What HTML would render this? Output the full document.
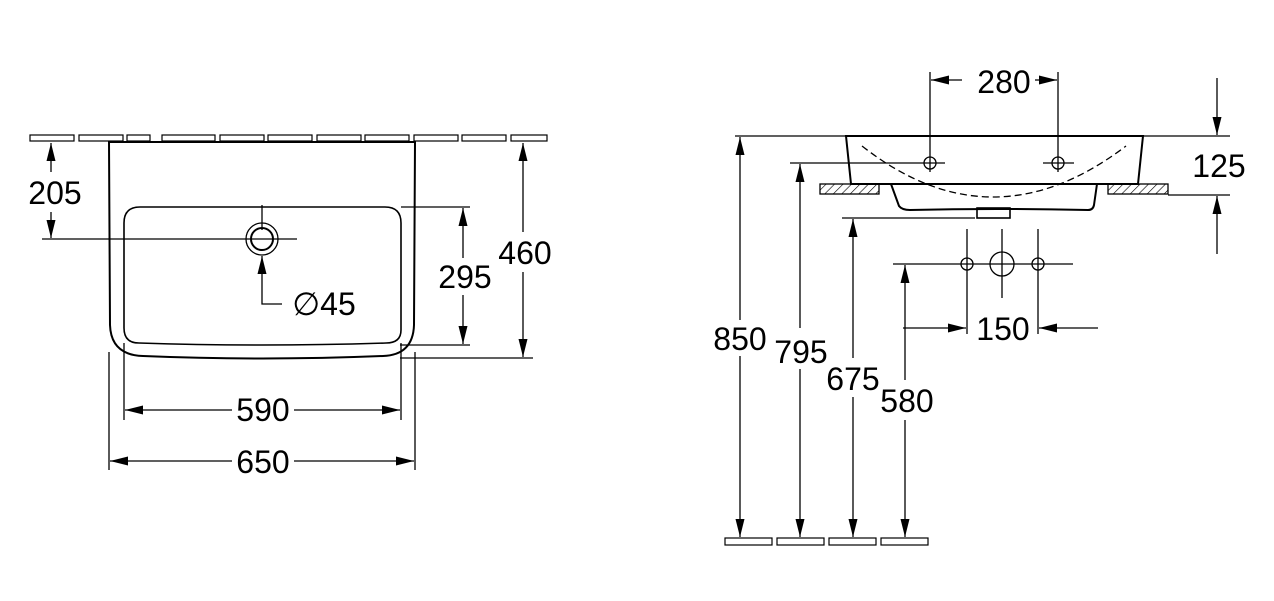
<!DOCTYPE html>
<html><head><meta charset="utf-8"><style>
html,body{margin:0;padding:0;background:#fff;}
svg{display:block}
text{font-family:"Liberation Sans",sans-serif;font-size:32px;fill:#000;text-anchor:middle}
</style></head><body>
<svg width="1274" height="601" viewBox="0 0 1274 601" xmlns="http://www.w3.org/2000/svg">
<defs>
<marker id="a" markerUnits="userSpaceOnUse" markerWidth="20" markerHeight="10" refX="18" refY="4.5" orient="auto">
<path d="M0,0 L18,4.5 L0,9 z" fill="#000"/></marker>
<pattern id="h" patternUnits="userSpaceOnUse" width="6" height="6" patternTransform="rotate(45)">
<line x1="0" y1="0" x2="0" y2="6" stroke="#000" stroke-width="1.2"/></pattern>
</defs>
<g fill="none" stroke="#000" stroke-width="1.3">
<g stroke-width="1.2">
<rect x="30" y="135" width="44" height="6"/><rect x="79" y="135" width="44" height="6"/>
<rect x="127" y="135" width="23" height="6"/><rect x="162" y="135" width="53" height="6"/>
<rect x="220" y="135" width="44" height="6"/><rect x="268" y="135" width="44" height="6"/>
<rect x="317" y="135" width="44" height="6"/><rect x="365" y="135" width="44" height="6"/>
<rect x="414" y="135" width="44" height="6"/><rect x="462" y="135" width="44" height="6"/>
<rect x="511" y="135" width="36" height="6"/>
</g>
<path d="M109,142 L415,142 L414,325 Q413,355 383,356 Q262,361 143,356 Q111,355 110,325 Z" stroke-width="2"/>
<path d="M140,207 L385,207 Q401,207 401,223 L401,330 Q401,343 386,343 Q262,347 139,343 Q124,343 124,328 L124,223 Q124,207 140,207 Z" stroke-width="1.6"/>
<circle cx="262" cy="239" r="16"/><circle cx="262" cy="239" r="11" stroke-width="2"/>
<line x1="262" y1="205" x2="262" y2="230"/>
<line x1="42" y1="239" x2="297" y2="239"/>
<line x1="51" y1="172" x2="51" y2="143" marker-end="url(#a)"/>
<line x1="51" y1="212" x2="51" y2="238" marker-end="url(#a)"/>
<polyline points="282,304 262,304 262,256" marker-end="url(#a)"/>
<line x1="401" y1="207" x2="470" y2="207"/>
<line x1="400" y1="345" x2="470" y2="345"/>
<line x1="463" y1="258" x2="463" y2="208" marker-end="url(#a)"/>
<line x1="463" y1="295" x2="463" y2="344" marker-end="url(#a)"/>
<line x1="400" y1="358" x2="533" y2="358"/>
<line x1="523" y1="232" x2="523" y2="143" marker-end="url(#a)"/>
<line x1="523" y1="272" x2="523" y2="357" marker-end="url(#a)"/>
<line x1="124" y1="343" x2="124" y2="420"/><line x1="401" y1="343" x2="401" y2="420"/>
<line x1="109" y1="352" x2="109" y2="470"/><line x1="415" y1="352" x2="415" y2="470"/>
<line x1="232" y1="410" x2="125" y2="410" marker-end="url(#a)"/>
<line x1="294" y1="410" x2="400" y2="410" marker-end="url(#a)"/>
<line x1="232" y1="461" x2="110" y2="461" marker-end="url(#a)"/>
<line x1="294" y1="461" x2="414" y2="461" marker-end="url(#a)"/>

<line x1="735" y1="136" x2="846" y2="136"/>
<line x1="1142" y1="136" x2="1230" y2="136"/>
<path d="M846,136 L1143,136 L1138,184 L851,184 Z" stroke-width="2"/>
<rect x="820" y="184" width="59" height="10" fill="url(#h)"/>
<rect x="1108" y="184" width="60" height="10" fill="url(#h)"/>
<path d="M891,184 L899,206 Q902,210 910,210 Q994,208 1088,210 Q1093,210 1094,205 L1097,184" stroke-width="2"/>
<rect x="977" y="208" width="33" height="10" stroke-width="1.6"/>
<path d="M862,146 Q992,248 1126,146" stroke-dasharray="7,4"/>
<circle cx="930" cy="163" r="6"/><circle cx="1058" cy="163" r="6"/>
<line x1="790" y1="163" x2="945" y2="163"/>
<line x1="1043" y1="163" x2="1074" y2="163"/>
<line x1="930" y1="72" x2="930" y2="172"/><line x1="1058" y1="72" x2="1058" y2="172"/>
<line x1="962" y1="80" x2="931" y2="80" marker-end="url(#a)"/>
<line x1="1035" y1="80" x2="1057" y2="80" marker-end="url(#a)"/>
<line x1="1168" y1="195" x2="1230" y2="195"/>
<line x1="1217" y1="78" x2="1217" y2="135" marker-end="url(#a)"/>
<line x1="1217" y1="254" x2="1217" y2="196" marker-end="url(#a)"/>
<line x1="842" y1="218" x2="975" y2="218"/>
<line x1="893" y1="264" x2="1073" y2="264"/>
<circle cx="967" cy="264" r="6"/><circle cx="1002" cy="264" r="12"/><circle cx="1038" cy="264" r="6"/>
<line x1="967" y1="229" x2="967" y2="334"/><line x1="1002" y1="229" x2="1002" y2="298"/><line x1="1038" y1="229" x2="1038" y2="334"/>
<line x1="903" y1="328" x2="966" y2="328" marker-end="url(#a)"/>
<line x1="1098" y1="328" x2="1039" y2="328" marker-end="url(#a)"/>
<line x1="740" y1="320" x2="740" y2="137" marker-end="url(#a)"/>
<line x1="740" y1="356" x2="740" y2="537" marker-end="url(#a)"/>
<line x1="800" y1="328" x2="800" y2="164" marker-end="url(#a)"/>
<line x1="800" y1="369" x2="800" y2="537" marker-end="url(#a)"/>
<line x1="853" y1="358" x2="853" y2="219" marker-end="url(#a)"/>
<line x1="853" y1="397" x2="853" y2="537" marker-end="url(#a)"/>
<line x1="905" y1="380" x2="905" y2="265" marker-end="url(#a)"/>
<line x1="905" y1="420" x2="905" y2="537" marker-end="url(#a)"/>
<g stroke-width="1.2">
<rect x="725" y="538" width="47" height="7"/><rect x="777" y="538" width="47" height="7"/>
<rect x="829" y="538" width="47" height="7"/><rect x="881" y="538" width="47" height="7"/>
</g>
</g>
<text x="55" y="204">205</text>
<text x="465" y="288">295</text>
<text x="525" y="264">460</text>
<text x="324" y="315">∅45</text>
<text x="263" y="421">590</text>
<text x="263" y="473">650</text>
<text x="1004" y="93">280</text>
<text x="1219" y="177">125</text>
<text x="1003" y="340">150</text>
<text x="740" y="350">850</text>
<text x="801" y="363">795</text>
<text x="853" y="390">675</text>
<text x="907" y="412">580</text>
</svg>
</body></html>
